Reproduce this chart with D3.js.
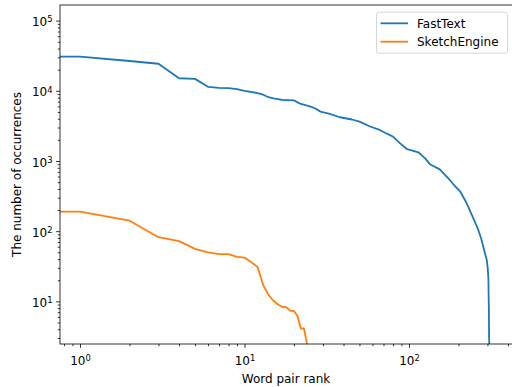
<!DOCTYPE html>
<html>
<head>
<meta charset="utf-8">
<script src="https://cdn.jsdelivr.net/npm/d3@7"></script>
<style>
  html, body { margin: 0; padding: 0; background: #fff; }
  svg { display: block; font-family: "DejaVu Sans", sans-serif; }
</style>
</head>
<body>
<svg id="chart" width="512" height="387"></svg>
<script>
// ---- Data ----
const seriesNames = ["FastText", "SketchEngine"];
const seriesColors = ["#1f77b4", "#ff7f0e"];

const fastTextRank = [0, 1, 2, 3, 4, 5, 6, 7, 8, 9, 10, 12, 13, 14, 15, 17, 20, 22, 25, 27, 29, 33, 38, 45, 50, 58, 65, 72, 80, 88, 97, 105, 114, 125, 134, 154, 165, 177, 190, 204, 219, 230, 241, 252, 264, 275, 283, 290, 297, 301, 304, 305, 306, 307, 308];
const fastTextCount = [30700, 30700, 26600, 24300, 15100, 14800, 11400, 11000, 10900, 10600, 10000, 9300, 8800, 8100, 7800, 7400, 7300, 6500, 6000, 5600, 5050, 4700, 4200, 3900, 3630, 3100, 2830, 2500, 2220, 1800, 1480, 1400, 1330, 1100, 900, 760, 640, 536, 440, 373, 278, 220, 170, 135, 104, 78, 60, 48, 39, 30, 21, 12, 8, 3, 1];

const sketchRank = [0, 1, 2, 3, 4, 5, 6, 7, 8, 9, 10, 11, 12, 13, 14, 15, 16, 17, 18, 19, 20, 21, 22, 23, 24];
const sketchCount = [190, 190, 141, 82, 72, 56, 50, 47, 47, 43, 42, 36, 31, 17, 12.3, 10.2, 9.0, 8.3, 8.2, 7.3, 7.3, 6.2, 4.1, 4.1, 1];

const xMajorTicks = [1, 10, 100];
const yMajorTicks = [10, 100, 1000, 10000, 100000];
const xLabel = "Word pair rank";
const yLabel = "The number of occurrences";

// ---- Layout ----
const svg = d3.select("#chart");
const margin = { left: 60, top: 5, right: 0, bottom: 43 };
const W = 512, H = 387;
const pw = W - margin.left - margin.right;
const ph = H - margin.top - margin.bottom;

const x = d3.scaleLog().domain([0.756, 423]).range([0, pw]).clamp(true);
const y = d3.scaleLog().domain([2.466, 167000]).range([ph, 0]).clamp(true);

const g = svg.append("g").attr("transform", `translate(${margin.left},${margin.top})`);

g.append("clipPath").attr("id", "clip")
  .append("rect").attr("x", 0).attr("y", 0).attr("width", pw).attr("height", ph);

// ---- Lines ----
const series = [
  { name: seriesNames[0], color: seriesColors[0], xs: fastTextRank, ys: fastTextCount },
  { name: seriesNames[1], color: seriesColors[1], xs: sketchRank, ys: sketchCount }
];
const line = d3.line().x(d => x(d[0])).y(d => y(d[1]));
const lineG = g.append("g").attr("clip-path", "url(#clip)");
series.forEach(s => {
  lineG.append("path")
    .datum(s.xs.map((r, i) => [r, s.ys[i]]))
    .attr("fill", "none")
    .attr("stroke", s.color)
    .attr("stroke-width", 1.8)
    .attr("stroke-linejoin", "round")
    .attr("stroke-linecap", "butt")
    .attr("d", line);
});

// ---- Axes ----
const fontSize = 12;
function supLabel(sel, d) {
  const e = Math.round(Math.log10(d));
  sel.text(null);
  sel.append("tspan").text("10");
  sel.append("tspan").attr("dy", "-0.45em").attr("font-size", "0.7em").text(e);
}

const xMinor = x.ticks().filter(v => !xMajorTicks.includes(v) && v >= x.domain()[0] && v <= x.domain()[1]);
const yMinor = y.ticks().filter(v => !yMajorTicks.includes(v) && v >= y.domain()[0] && v <= y.domain()[1]);

const xAxisMinor = d3.axisBottom(x).tickValues(xMinor).tickSize(2.2).tickFormat("");
const yAxisMinor = d3.axisLeft(y).tickValues(yMinor).tickSize(2.2).tickFormat("");
const xAxis = d3.axisBottom(x).tickValues(xMajorTicks).tickSize(3.9).tickPadding(3.5);
const yAxis = d3.axisLeft(y).tickValues(yMajorTicks).tickSize(3.9).tickPadding(3.5);

function styleAxis(a) {
  a.select(".domain").remove();
  a.selectAll("line").attr("stroke", "#000").attr("stroke-width", 0.8);
  a.selectAll("text").attr("fill", "#000").attr("font-size", fontSize).attr("font-family", "DejaVu Sans");
}

const gx2 = g.append("g").attr("transform", `translate(0,${ph})`).call(xAxisMinor); styleAxis(gx2);
const gy2 = g.append("g").call(yAxisMinor); styleAxis(gy2);
const gx = g.append("g").attr("transform", `translate(0,${ph})`).call(xAxis); styleAxis(gx);
gx.selectAll(".tick text").each(function(d) { supLabel(d3.select(this), d); }).attr("dy", "1.1em");
const gy = g.append("g").call(yAxis); styleAxis(gy);
gy.selectAll(".tick text").each(function(d) { supLabel(d3.select(this), d); }).attr("dy", "0.42em");

// frame
g.append("rect").attr("x", 0).attr("y", 0).attr("width", pw + 0.5).attr("height", ph)
  .attr("fill", "none").attr("stroke", "#000").attr("stroke-width", 0.8);

// axis labels
svg.append("text").attr("x", margin.left + pw / 2).attr("y", 382.5)
  .attr("text-anchor", "middle").attr("font-size", fontSize).attr("fill", "#000").text(xLabel);
svg.append("text").attr("transform", `translate(21,${margin.top + ph / 2}) rotate(-90)`)
  .attr("text-anchor", "middle").attr("font-size", fontSize).attr("fill", "#000").text(yLabel);

// ---- Legend ----
const lg = g.append("g").attr("transform", `translate(${pw - 136},${6.7})`);
lg.append("rect").attr("x", 0.5).attr("y", 0.5).attr("width", 131).attr("height", 41)
  .attr("rx", 2.5).attr("fill", "#fff").attr("fill-opacity", 0.8)
  .attr("stroke", "#cccccc").attr("stroke-width", 0.8);
series.forEach((s, i) => {
  const yy = 11.6 + i * 18.4;
  lg.append("line").attr("x1", 4.5).attr("x2", 32).attr("y1", yy).attr("y2", yy)
    .attr("stroke", s.color).attr("stroke-width", 1.8);
  lg.append("text").attr("x", 41).attr("y", yy).attr("dy", "0.36em")
    .attr("font-size", fontSize).attr("fill", "#000").text(s.name);
});
</script>
</body>
</html>
